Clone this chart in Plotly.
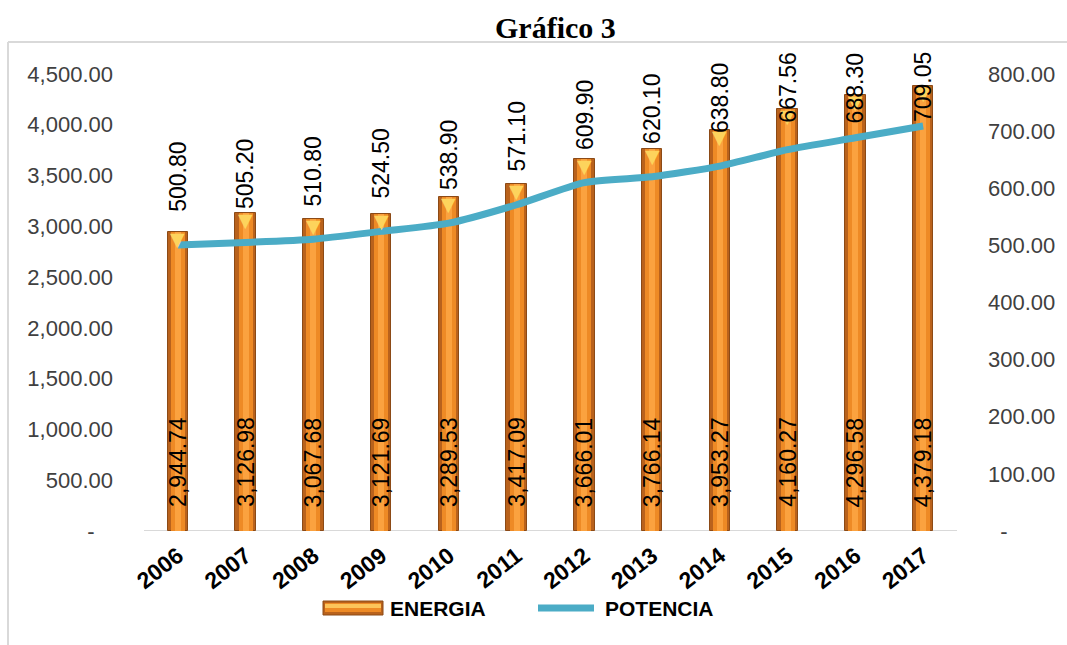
import plotly.graph_objects as go

# Series
years = ["2006", "2007", "2008", "2009", "2010", "2011",
         "2012", "2013", "2014", "2015", "2016", "2017"]
energia = [2944.74, 3126.98, 3067.68, 3121.69, 3289.53, 3417.09,
           3666.01, 3766.14, 3953.27, 4160.27, 4296.58, 4379.18]
potencia = [500.80, 505.20, 510.80, 524.50, 538.90, 571.10,
            609.90, 620.10, 638.80, 667.56, 688.30, 709.05]

# Axis ticks
left_ticks = [0, 500, 1000, 1500, 2000, 2500, 3000, 3500, 4000, 4500]
right_ticks = [0, 100, 200, 300, 400, 500, 600, 700, 800]


def money(v):
    return f"{v:,.2f}"


left_text = ["-\u00a0\u00a0\u00a0" if v == 0 else money(v) for v in left_ticks]
right_text = ["\u00a0\u00a0-" if v == 0 else money(v) for v in right_ticks]

FONT = "Liberation Sans"
ORANGE_DARK = "#B9621C"
ORANGE_MID = "#EE8A25"
ORANGE_LIGHT = "#FBA23F"
TEAL = "#4BACC6"

W, H = 1067, 645
M_L, M_R, M_T, M_B = 144, 110, 74, 114
PLOT_H = H - M_T - M_B
PLOT_W = W - M_L - M_R


def px_x(x):
    """pixel column -> paper x"""
    return (x - M_L) / PLOT_W


def px_y(y):
    """pixel row -> paper y"""
    return (H - M_B - y) / PLOT_H


fig = go.Figure()

# Energy bars: layered bars of decreasing width give a rounded, shaded look
fig.add_trace(go.Bar(
    x=years, y=energia, name="ENERGIA", width=0.30,
    marker=dict(color=ORANGE_DARK, line=dict(color="#8C4A16", width=1)),
    yaxis="y", showlegend=False,
))
fig.add_trace(go.Bar(
    x=years, y=energia, width=0.21, marker=dict(color=ORANGE_MID, line=dict(width=0)),
    yaxis="y", showlegend=False, hoverinfo="skip",
))
fig.add_trace(go.Bar(
    x=years, y=energia, width=0.09, marker=dict(color=ORANGE_LIGHT, line=dict(width=0)),
    yaxis="y", showlegend=False, hoverinfo="skip",
))

# Power line on the secondary axis
fig.add_trace(go.Scatter(
    x=years, y=potencia, name="POTENCIA", mode="lines",
    line=dict(color=TEAL, width=7, shape="spline", smoothing=0.6),
    yaxis="y2", showlegend=False,
))

annotations = []
for i, v in enumerate(energia):
    # bevel highlight on the top of each bar
    annotations.append(dict(
        x=i, y=v, xref="x", yref="y", text="\u25BC", showarrow=False,
        xanchor="center", yanchor="top", yshift=6,
        font=dict(family="DejaVu Sans", size=19, color="#FDD35C"),
    ))
    # energy value written upright inside the base of the bar
    annotations.append(dict(
        x=i, y=0, xref="x", yref="y", text=money(v), showarrow=False,
        textangle=-90, xanchor="center", yanchor="bottom", yshift=22,
        font=dict(family=FONT, size=23, color="#000000"),
    ))

# Power values above the line, kept inside the chart frame
for i, v in enumerate(potencia):
    point_px = M_T + PLOT_H * (1 - v / 800)
    shift = max(2, min(31, point_px - 52 - 73))
    annotations.append(dict(
        x=i, y=v, xref="x", yref="y2", text=money(v), showarrow=False,
        textangle=-90, xanchor="center", yanchor="bottom", yshift=shift,
        font=dict(family=FONT, size=23, color="#000000"),
    ))

# Title
annotations.append(dict(
    x=px_x(555), y=px_y(28), xref="paper", yref="paper",
    xanchor="center", yanchor="middle",
    text="<b>Gráfico 3</b>", showarrow=False,
    font=dict(family="Liberation Serif", size=30, color="#000000"),
))

# Legend text
annotations.append(dict(
    x=px_x(388), y=px_y(608), xref="paper", yref="paper",
    xanchor="left", yanchor="middle", text="<b>ENERGIA</b>", showarrow=False,
    font=dict(family=FONT, size=21, color="#000000"),
))
annotations.append(dict(
    x=px_x(603), y=px_y(608), xref="paper", yref="paper",
    xanchor="left", yanchor="middle", text="<b>POTENCIA</b>", showarrow=False,
    font=dict(family=FONT, size=21, color="#000000"),
))

shapes = [
    # chart frame (top and left edges)
    dict(type="line", xref="paper", yref="paper", x0=px_x(8), x1=1.2,
         y0=px_y(42), y1=px_y(42), line=dict(color="#D9D9D9", width=2)),
    dict(type="line", xref="paper", yref="paper", x0=px_x(8), x1=px_x(8),
         y0=px_y(42), y1=px_y(660), line=dict(color="#D9D9D9", width=2)),
    # category baseline
    dict(type="line", xref="paper", yref="y", x0=0, x1=1, y0=0, y1=0,
         line=dict(color="#D9D9D9", width=2), layer="below"),
    # legend key: energy (shaded block)
    dict(type="rect", xref="paper", yref="paper",
         x0=px_x(323), x1=px_x(383), y0=px_y(615), y1=px_y(601),
         fillcolor=ORANGE_DARK, line=dict(color="#8C4A16", width=1)),
    dict(type="rect", xref="paper", yref="paper",
         x0=px_x(325), x1=px_x(381), y0=px_y(612), y1=px_y(603),
         fillcolor=ORANGE_MID, line=dict(width=0)),
    dict(type="rect", xref="paper", yref="paper",
         x0=px_x(325), x1=px_x(381), y0=px_y(608), y1=px_y(604),
         fillcolor="#FCC45A", line=dict(width=0)),
    # legend key: power (line)
    dict(type="line", xref="paper", yref="paper",
         x0=px_x(538), x1=px_x(594), y0=px_y(608), y1=px_y(608),
         line=dict(color=TEAL, width=7)),
]

fig.update_layout(
    width=W, height=H,
    margin=dict(l=M_L, r=M_R, t=M_T, b=M_B),
    paper_bgcolor="white", plot_bgcolor="white",
    barmode="overlay", bargap=0, showlegend=False,
    font=dict(family=FONT, color="#404040"),
    xaxis=dict(
        type="category", range=[-0.5, len(years) - 0.5], tickangle=-38,
        showgrid=False, showline=False,
        zeroline=False, ticks="", ticklabelstandoff=6,
        tickfont=dict(family=FONT, size=23, color="#000000", weight="bold"),
    ),
    yaxis=dict(
        range=[0, 4500], tickvals=left_ticks, ticktext=left_text,
        showgrid=False, zeroline=False, showline=False, ticks="",
        ticklabelstandoff=30,
        tickfont=dict(family=FONT, size=22, color="#404040"),
    ),
    yaxis2=dict(
        range=[0, 800], tickvals=right_ticks, ticktext=right_text,
        overlaying="y", side="right", showgrid=False, zeroline=False,
        showline=False, ticks="", ticklabelstandoff=30,
        tickfont=dict(family=FONT, size=22, color="#404040"),
    ),
    annotations=annotations,
    shapes=shapes,
)

fig.write_html("out.html")
